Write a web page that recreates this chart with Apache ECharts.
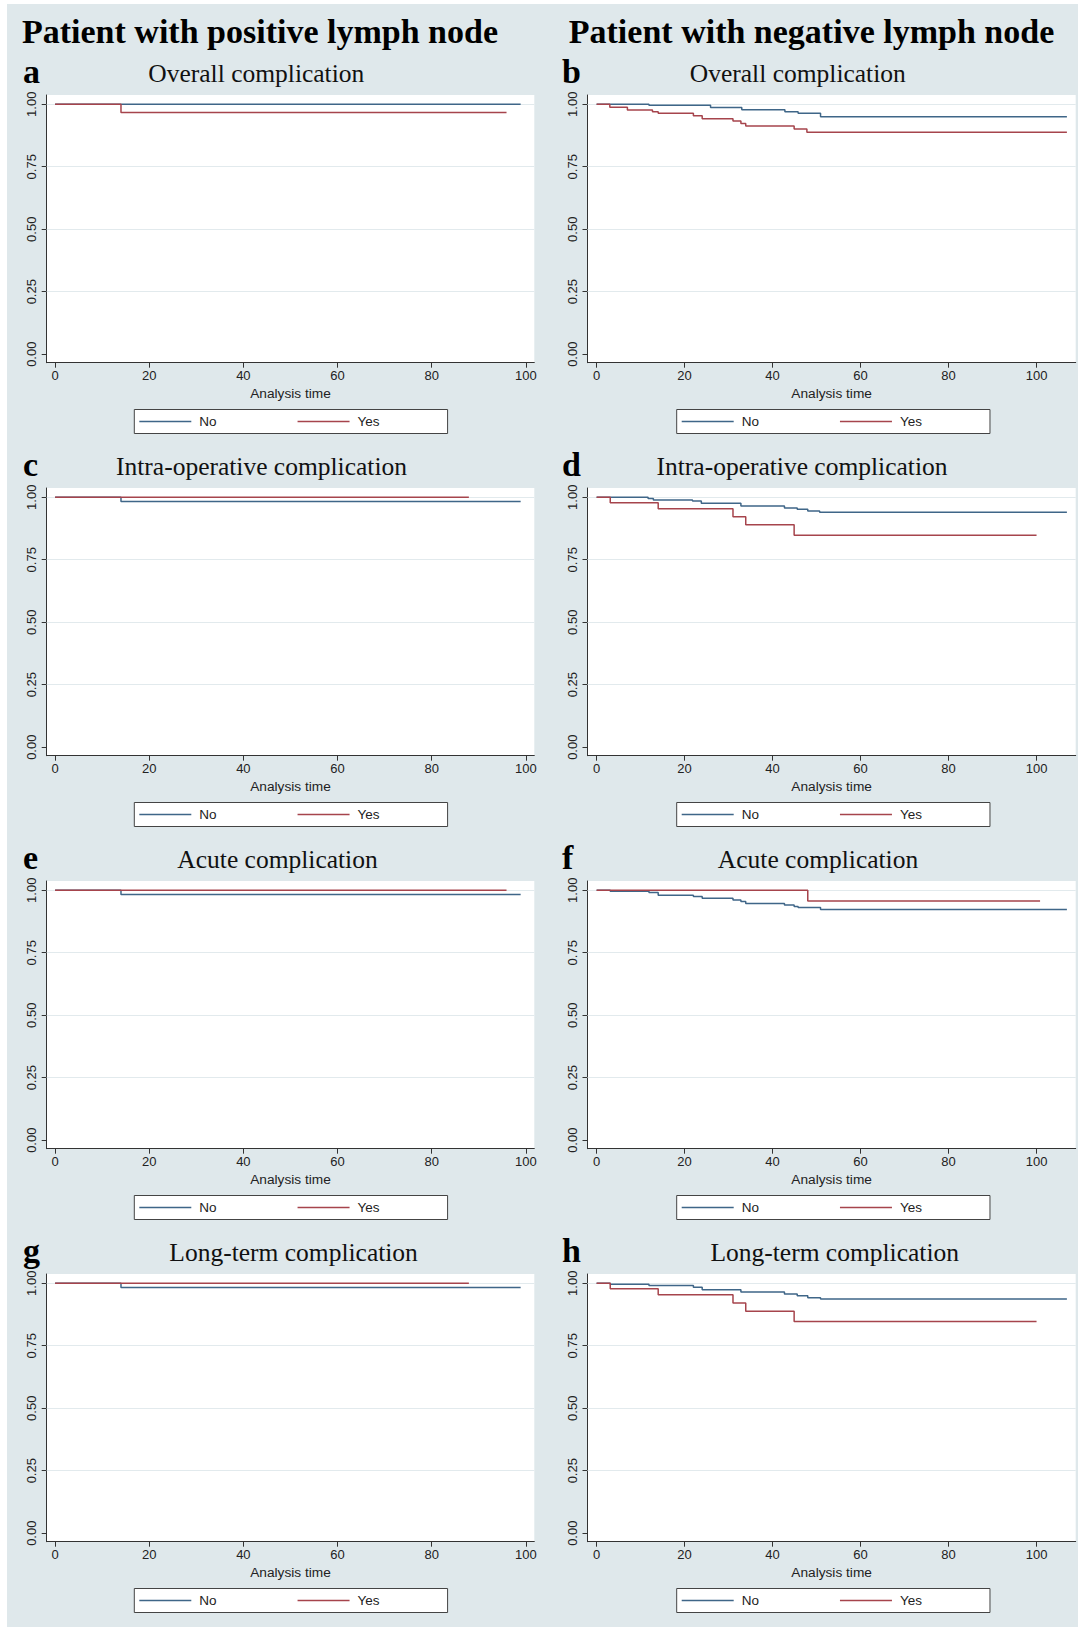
<!DOCTYPE html>
<html><head><meta charset="utf-8">
<script src="https://cdn.jsdelivr.net/npm/echarts@6/dist/echarts.min.js"></script>
<style>html,body{margin:0;padding:0;background:#fff}#c{width:1078px;height:1627px}</style>
</head><body><div id="c"></div>
<script>
// ---------- text ----------
const headers = ['Patient with positive lymph node', 'Patient with negative lymph node'];
const letters = ['a', 'b', 'c', 'd', 'e', 'f', 'g', 'h'];
const subtitles = ['Overall complication', 'Overall complication',
  'Intra-operative complication', 'Intra-operative complication',
  'Acute complication', 'Acute complication',
  'Long-term complication', 'Long-term complication'];
const legendLabels = ['No', 'Yes'];
const xAxisTitle = 'Analysis time';
const xTicks = [0, 20, 40, 60, 80, 100];
const yTicks = [0, 0.25, 0.5, 0.75, 1];
const yGridValues = [0.25, 0.5, 0.75, 1];

// ---------- data: [analysis time, survival] ----------
const aNo  = [[0, 1], [98.9, 1]];
const aYes = [[0, 1], [14, 0.967], [95.9, 0.967]];
const bNo  = [[0, 1], [11.9, 0.996], [25.9, 0.987], [33, 0.978], [42.8, 0.970], [45.8, 0.964], [50.9, 0.950], [106.9, 0.950]];
const bYes = [[0, 1], [3, 0.988], [7, 0.977], [12.7, 0.970], [14, 0.964], [22, 0.954], [24, 0.942], [31, 0.933], [32.8, 0.923], [33.9, 0.913], [44.9, 0.901], [47.8, 0.888], [106.9, 0.888]];
const cNo  = [[0, 1], [14, 0.983], [98.9, 0.983]];
const cYes = [[0, 1], [87.9, 1]];
const dNo  = [[0, 1], [11.7, 0.995], [12.9, 0.989], [21.8, 0.985], [23.8, 0.976], [32.8, 0.965], [42.7, 0.957], [45.6, 0.952], [48, 0.945], [50.7, 0.940], [106.9, 0.940]];
const dYes = [[0, 1], [3.1, 0.978], [14, 0.954], [31, 0.922], [33.9, 0.890], [44.9, 0.848], [100, 0.848]];
const eNo  = [[0, 1], [14, 0.983], [98.9, 0.983]];
const eYes = [[0, 1], [95.9, 1]];
const fNo  = [[0, 1], [3.1, 0.996], [11.9, 0.991], [14, 0.980], [22, 0.975], [24, 0.968], [31, 0.961], [32.8, 0.955], [33.9, 0.947], [42.7, 0.941], [44.9, 0.935], [45.8, 0.931], [50.9, 0.923], [106.9, 0.923]];
const fYes = [[0, 1], [48, 0.957], [100.8, 0.957]];
const gNo  = [[0, 1], [14, 0.983], [98.9, 0.983]];
const gYes = [[0, 1], [87.9, 1]];
const hNo  = [[0, 1], [3.1, 0.996], [11.9, 0.991], [22, 0.984], [24, 0.974], [32.8, 0.965], [42.7, 0.957], [45.6, 0.950], [48, 0.942], [50.9, 0.937], [106.9, 0.937]];
const hYes = [[0, 1], [3.1, 0.978], [14, 0.954], [31, 0.921], [33.9, 0.888], [44.9, 0.847], [100, 0.847]];

const panelNo  = [aNo, bNo, cNo, dNo, eNo, fNo, gNo, hNo];
const panelYes = [aYes, bYes, cYes, dYes, eYes, fYes, gYes, hYes];

// ---------- layout / style ----------
const BG = '#dfe8eb';
const BLUE = '#3f6688';
const RED = '#a6444c';
const AXIS = '#333';
const SANS = '"Liberation Sans", Arial, sans-serif';
const SERIF = '"Liberation Serif", "Times New Roman", serif';
const ROW = 393;
const colGrid = [
  { left: 46.7, width: 487.6, xMin: -1.78, xMax: 101.8, legendLeft: 134.3, letterX: 23, header: 260 },
  { left: 587.5, width: 488.2, xMin: -2.07, xMax: 108.9, legendLeft: 676.7, letterX: 562, header: 811.5 }
];
const subtitleCenters = [256.3, 797.8, 261.5, 802, 277.5, 818, 293.6, 834.7];

const grids = [], xAxes = [], yAxes = [], series = [], legends = [], graphics = [];

graphics.push({ type: 'rect', shape: { x: 7, y: 4, width: 1071, height: 1623 }, style: { fill: BG }, z: -10, silent: true });
headers.forEach((h, c) => {
  graphics.push({ type: 'text', x: colGrid[c].header, y: 31, style: { text: h, font: 'bold 34px ' + SERIF, fill: '#000', textAlign: 'center', textVerticalAlign: 'middle' } });
});

for (let p = 0; p < 8; p++) {
  const c = p % 2, r = Math.floor(p / 2);
  const cg = colGrid[c];
  const top = 95 + ROW * r;
  grids.push({ left: cg.left, top: top, width: cg.width, height: 267.7, show: true, backgroundColor: '#fff', borderWidth: 0, containLabel: false });
  xAxes.push({
    type: 'value', gridIndex: p, min: cg.xMin, max: cg.xMax,
    axisLine: { show: true, onZero: false, lineStyle: { color: AXIS, width: 1 } },
    axisTick: { show: true, length: 5, customValues: xTicks, lineStyle: { color: AXIS } },
    axisLabel: { customValues: xTicks, color: '#222', fontSize: 13, fontFamily: SANS, margin: 6 },
    splitLine: { show: false },
    name: xAxisTitle, nameLocation: 'middle', nameGap: 24,
    nameTextStyle: { color: '#222', fontSize: 13.7, fontFamily: SANS }
  });
  yAxes.push({
    type: 'value', gridIndex: p, min: -0.034, max: 1.037,
    axisLine: { show: true, onZero: false, lineStyle: { color: AXIS, width: 1 } },
    axisTick: { show: true, length: 5, customValues: yTicks, lineStyle: { color: AXIS } },
    axisLabel: { customValues: yTicks, rotate: 90, color: '#222', fontSize: 13, fontFamily: SANS, margin: 9,
      formatter: v => v.toFixed(2) },
    splitLine: { show: false }
  });
  series.push({
    type: 'line', name: '', xAxisIndex: p, yAxisIndex: p, data: [], z: 1, silent: true,
    markLine: { silent: true, z: 1, symbol: ['none', 'none'], animation: false, label: { show: false },
      lineStyle: { color: '#e2eaed', width: 1, type: 'solid' },
      data: yGridValues.map(v => ({ yAxis: v })) }
  });
  series.push({ type: 'line', name: legendLabels[0], xAxisIndex: p, yAxisIndex: p, data: panelNo[p], step: 'end', symbol: 'none', z: 5,
    lineStyle: { color: BLUE, width: 1.5 }, itemStyle: { color: BLUE } });
  series.push({ type: 'line', name: legendLabels[1], xAxisIndex: p, yAxisIndex: p, data: panelYes[p], step: 'end', symbol: 'none', z: 5,
    lineStyle: { color: RED, width: 1.5 }, itemStyle: { color: RED } });
  legends.push({
    data: legendLabels, left: cg.legendLeft, top: 409.5 + ROW * r, orient: 'horizontal',
    icon: 'rect', itemWidth: 52, itemHeight: 1.5, itemGap: 81, padding: [5, 68, 5, 5],
    borderColor: '#444', borderWidth: 1, backgroundColor: '#fff', selectedMode: false,
    textStyle: { fontSize: 13.5, color: '#222', fontFamily: SANS, padding: [0, 0, 0, 3], lineHeight: 14 }
  });
  graphics.push({ type: 'text', x: cg.letterX, y: 71.5 + ROW * r, style: { text: letters[p], font: 'bold 34px ' + SERIF, fill: '#000', textAlign: 'left', textVerticalAlign: 'middle' } });
  graphics.push({ type: 'text', x: subtitleCenters[p], y: 73.4 + ROW * r, style: { text: subtitles[p], font: '25.5px ' + SERIF, fill: '#111', textAlign: 'center', textVerticalAlign: 'middle' } });
}

const chart = echarts.init(document.getElementById('c'), null, { renderer: 'svg' });
chart.setOption({
  backgroundColor: '#fff',
  animation: false,
  grid: grids, xAxis: xAxes, yAxis: yAxes, series: series, legend: legends,
  graphic: graphics
});
</script>
</body></html>
